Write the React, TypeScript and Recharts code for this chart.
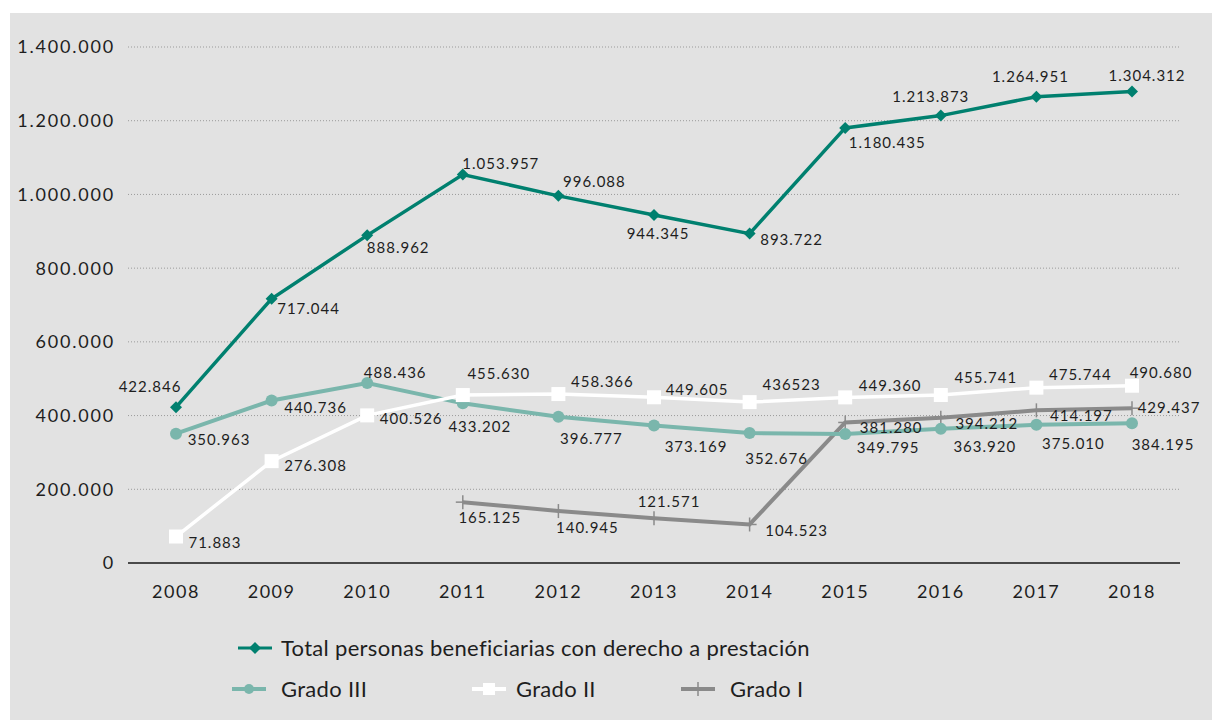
import React from 'react';
import { LineChart, Line, XAxis, YAxis, CartesianGrid, Legend, LabelList } from 'recharts';

const years = ['2008', '2009', '2010', '2011', '2012', '2013', '2014', '2015', '2016', '2017', '2018'];

const totalValues = [422846, 717044, 888962, 1053957, 996088, 944345, 893722, 1180435, 1213873, 1264951, 1279000];
const totalLabels = ['422.846', '717.044', '888.962', '1.053.957', '996.088', '944.345', '893.722', '1.180.435', '1.213.873', '1.264.951', '1.304.312'];

const grado3Values = [350963, 440736, 488436, 433202, 396777, 373169, 352676, 349795, 363920, 375010, 379000];
const grado3Labels = ['350.963', '440.736', '488.436', '433.202', '396.777', '373.169', '352.676', '349.795', '363.920', '375.010', '384.195'];

const grado2Values = [71883, 276308, 400526, 455630, 458366, 449605, 436523, 449360, 455741, 475744, 481000];
const grado2Labels = ['71.883', '276.308', '400.526', '455.630', '458.366', '449.605', '436523', '449.360', '455.741', '475.744', '490.680'];

const grado1Values = [null, null, null, 165125, 140945, 121571, 104523, 381280, 394212, 414197, 420000];
const grado1Labels = ['', '', '', '165.125', '140.945', '121.571', '104.523', '381.280', '394.212', '414.197', '429.437'];

const yTicks = [0, 200000, 400000, 600000, 800000, 1000000, 1200000, 1400000];

const seriesNames = {
  total: 'Total personas beneficiarias con derecho a prestación',
  g3: 'Grado III',
  g2: 'Grado II',
  g1: 'Grado I',
};

const data = years.map((y, i) => ({
  year: y,
  total: totalValues[i],
  g3: grado3Values[i],
  g2: grado2Values[i],
  g1: grado1Values[i],
}));

// label placement offsets (dx, dy) relative to the point
const totalOffsets = [[-26, -21], [37, 9], [31, 12], [38, -12], [36, -15], [4, 18], [42, 5], [42, 14], [-10, -20], [-6, -21], [15, -17]];
const g3Offsets = [[43, 5], [44, 6], [28, -11], [17, 23], [33, 21], [42, 21], [27, 25], [43, 13], [44, 17], [37, 18], [31, 21]];
const g2Offsets = [[39, 5], [44, 4], [44, 3], [36, -22], [44, -13], [43, -8], [42, -18], [45, -12], [45, -18], [44, -14], [29, -14]];
const g1Offsets = [[0, 0], [0, 0], [0, 0], [27, 15], [29, 16], [15, -17], [47, 6], [46, 5], [46, 5], [45, 5], [37, -1]];

const COLORS = {
  total: '#00806f',
  g3: '#7ab6ac',
  g2: '#ffffff',
  g1: '#8a8a8a',
  bg: '#e2e2e2',
  text: '#1e1e1e',
};

const FONT = 'Lato, "Open Sans", sans-serif';

const fmtTick = (v: number) => {
  if (v === 0) return '0';
  return v.toLocaleString('de-DE');
};

const makeLabel = (labels: string[], offsets: number[][]) => (props: any) => {
  const idx = props.index;
  const x = props.x ?? props.viewBox?.x;
  const y = props.y ?? props.viewBox?.y;
  if (idx == null || x == null || y == null || !labels[idx]) return null;
  const [dx, dy] = offsets[idx];
  return (
    <text
      x={x + dx}
      y={y + dy}
      textAnchor="middle"
      dominantBaseline="central"
      fontFamily={FONT}
      fontSize={15}
      letterSpacing={1}
      fill={COLORS.text}
    >
      {labels[idx]}
    </text>
  );
};

const Diamond = ({ cx, cy, color, s = 6 }: any) =>
  cx == null || cy == null ? null : (
    <path d={`M${cx},${cy - s} L${cx + s},${cy} L${cx},${cy + s} L${cx - s},${cy} Z`} fill={color} />
  );

const Square = ({ cx, cy, color, s = 7 }: any) =>
  cx == null || cy == null ? null : <rect x={cx - s} y={cy - s} width={2 * s} height={2 * s} fill={color} />;

const Circle = ({ cx, cy, color, r = 6 }: any) =>
  cx == null || cy == null ? null : <circle cx={cx} cy={cy} r={r} fill={color} />;

const Plus = ({ cx, cy, color, s = 7 }: any) =>
  cx == null || cy == null ? null : (
    <g stroke={color} strokeWidth={1.5}>
      <line x1={cx - s} y1={cy} x2={cx + s} y2={cy} />
      <line x1={cx} y1={cy - s} x2={cx} y2={cy + s} />
    </g>
  );

const dotFn = (Comp: any, color: string) => (props: any) => {
  const { cx, cy, index } = props;
  if (cx == null || cy == null || Number.isNaN(cy)) return <g key={`d-${index}`} />;
  return <g key={`d-${index}`}><Comp cx={cx} cy={cy} color={color} /></g>;
};

const LegendIcon = ({ kind }: { kind: string }) => {
  const color = (COLORS as any)[kind];
  const w = 34;
  const h = 16;
  const cx = w / 2;
  const cy = h / 2;
  return (
    <svg width={w} height={h} style={{ display: 'block' }}>
      <line x1={0} y1={cy} x2={w} y2={cy} stroke={color} strokeWidth={kind === 'total' ? 3 : 4} />
      {kind === 'total' && <Diamond cx={cx} cy={cy} color={color} s={6} />}
      {kind === 'g3' && <Circle cx={cx} cy={cy} color={color} r={5} />}
      {kind === 'g2' && <Square cx={cx} cy={cy} color={color} s={6} />}
      {kind === 'g1' && <Plus cx={cx} cy={cy} color={color} s={7} />}
    </svg>
  );
};

const LegendItem = ({ kind, left, top, iconLeft }: any) => (
  <div style={{ position: 'absolute', left, top, height: 24, display: 'flex', alignItems: 'center' }}>
    <div style={{ position: 'absolute', left: iconLeft, top: 4 }}>
      <LegendIcon kind={kind} />
    </div>
    <span style={{ position: 'absolute', left: 0, top: -1, whiteSpace: 'nowrap', fontFamily: FONT, fontSize: 22, letterSpacing: 0.3, lineHeight: '26px', color: COLORS.text }}>
      {(seriesNames as any)[kind]}
    </span>
  </div>
);

const renderLegend = () => (
  <div style={{ position: 'relative', width: 1000, height: 80 }}>
    <LegendItem kind="total" left={271} top={0} iconLeft={-43} />
    <LegendItem kind="g3" left={271} top={41} iconLeft={-49} />
    <LegendItem kind="g2" left={506} top={41} iconLeft={-44} />
    <LegendItem kind="g1" left={720} top={41} iconLeft={-49} />
  </div>
);

export default function App() {
  return (
    <div style={{ position: 'absolute', left: 10, top: 13, width: 1202, height: 707, background: COLORS.bg }}>
      <LineChart width={1202} height={707} data={data} margin={{ top: 34, right: 32, bottom: 127, left: 0 }}>
        <CartesianGrid vertical={false} stroke="#9a9a9a" strokeDasharray="1 2" strokeWidth={1} />
        <XAxis
          dataKey="year"
          tickLine={false}
          tickSize={0}
          tickMargin={22}
          padding={{ left: 48, right: 48 }}
          axisLine={{ stroke: '#4a4a4a', strokeWidth: 2 }}
          tick={{ fill: COLORS.text, fontSize: 18, fontFamily: FONT, letterSpacing: 1.5 }}
          height={30}
          interval={0}
        />
        <YAxis
          width={118}
          domain={[0, 1400000]}
          ticks={yTicks}
          tickFormatter={fmtTick}
          axisLine={false}
          tickLine={false}
          tickSize={0}
          tickMargin={13}
          tick={{ fill: COLORS.text, fontSize: 18, fontFamily: FONT, letterSpacing: 1.8 }}
        />
        <Legend
          verticalAlign="middle"
          layout="horizontal"
          content={renderLegend}
          wrapperStyle={{ left: 0, top: 623, width: 1000, height: 80 }}
        />
        <Line
          type="linear"
          dataKey="g1"
          name={seriesNames.g1}
          stroke={COLORS.g1}
          strokeWidth={4}
          dot={dotFn(Plus, COLORS.g1)}
          isAnimationActive={false}
          connectNulls={false}
        >
          <LabelList dataKey="g1" content={makeLabel(grado1Labels, g1Offsets)} />
        </Line>
        <Line
          type="linear"
          dataKey="g3"
          name={seriesNames.g3}
          stroke={COLORS.g3}
          strokeWidth={4}
          dot={dotFn(Circle, COLORS.g3)}
          isAnimationActive={false}
        >
          <LabelList dataKey="g3" content={makeLabel(grado3Labels, g3Offsets)} />
        </Line>
        <Line
          type="linear"
          dataKey="g2"
          name={seriesNames.g2}
          stroke={COLORS.g2}
          strokeWidth={3.5}
          dot={dotFn(Square, COLORS.g2)}
          isAnimationActive={false}
        >
          <LabelList dataKey="g2" content={makeLabel(grado2Labels, g2Offsets)} />
        </Line>
        <Line
          type="linear"
          dataKey="total"
          name={seriesNames.total}
          stroke={COLORS.total}
          strokeWidth={3.5}
          dot={dotFn(Diamond, COLORS.total)}
          isAnimationActive={false}
        >
          <LabelList dataKey="total" content={makeLabel(totalLabels, totalOffsets)} />
        </Line>
      </LineChart>
    </div>
  );
}
